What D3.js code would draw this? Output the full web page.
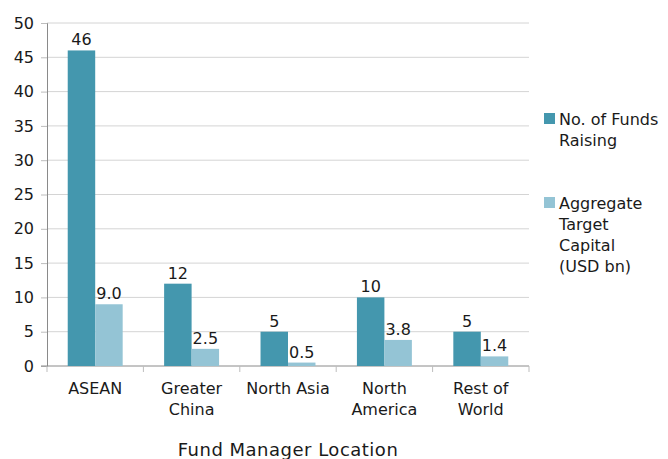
<!DOCTYPE html>
<html>
<head>
<meta charset="utf-8">
<script src="https://cdn.jsdelivr.net/npm/d3@7"></script>
<style>
  body { margin: 0; background: #fff; }
  svg text { font-family: "DejaVu Sans", sans-serif; fill: #1a1a1a; }
</style>
</head>
<body>
<div id="container"></div>
<script>
/* DATA */
const categories = [["ASEAN"], ["Greater", "China"], ["North Asia"], ["North", "America"], ["Rest of", "World"]];
const funds = [46, 12, 5, 10, 5];
const capital = [9.0, 2.5, 0.5, 3.8, 1.4];
const seriesNames = [["No. of Funds", "Raising"], ["Aggregate", "Target", "Capital", "(USD bn)"]];
const yTicks = [0, 5, 10, 15, 20, 25, 30, 35, 40, 45, 50];

const width = 668, height = 459,
  margin = { top: 23, bottom: 93, left: 47, right: 139 };
const colors = ["#4497AE", "#94C4D5"];
const fontSize = 16;

const svg = d3.select("#container").append("svg")
  .attr("width", width).attr("height", height);

const keys = categories.map((c, i) => i);

/* SCALES */
const x = d3.scaleBand()
  .domain(keys)
  .range([margin.left, width - margin.right])
  .paddingInner(0.43).paddingOuter(0.215);

const xSub = d3.scaleBand().domain([0, 1]).range([0, x.bandwidth()]);

const y = d3.scaleLinear()
  .domain([0, 50])
  .range([height - margin.bottom, margin.top]);

// gridlines
svg.append("g")
  .selectAll("line")
  .data(yTicks.slice(1))
  .join("line")
  .attr("x1", margin.left).attr("x2", width - margin.right)
  .attr("y1", d => y(d)).attr("y2", d => y(d))
  .attr("stroke", "#d4d4d4").attr("stroke-width", 1);

// y axis
const yAxis = svg.append("g")
  .attr("transform", `translate(${margin.left},0)`)
  .call(d3.axisLeft(y).tickValues(yTicks).tickSize(6).tickPadding(7));
yAxis.select(".domain").attr("stroke", "#8a8a8a");
yAxis.selectAll(".tick line").attr("stroke", "#bdbdbd");
yAxis.selectAll("text").attr("font-size", fontSize).style("fill", "#1a1a1a")
  .attr("font-family", "'DejaVu Sans', sans-serif");

// x axis
const xAxisG = svg.append("g")
  .attr("transform", `translate(0,${height - margin.bottom})`);
xAxisG.append("line")
  .attr("x1", margin.left - 6).attr("x2", width - margin.right)
  .attr("stroke", "#8a8a8a");
const tickXs = keys.map(k => x(k) - x.step() * x.paddingInner() / 2).concat([width - margin.right]);
tickXs[0] = margin.left;
xAxisG.selectAll(".xt")
  .data(tickXs)
  .join("line")
  .attr("x1", d => d).attr("x2", d => d)
  .attr("y1", 0).attr("y2", 6)
  .attr("stroke", "#bdbdbd");

// category labels
const catG = svg.append("g");
categories.forEach((lines, i) => {
  const t = catG.append("text")
    .attr("x", x(i) + x.bandwidth() / 2)
    .attr("y", height - margin.bottom + 28)
    .attr("text-anchor", "middle")
    .attr("font-size", fontSize);
  lines.forEach((ln, j) => {
    t.append("tspan").attr("x", x(i) + x.bandwidth() / 2)
      .attr("dy", j === 0 ? 0 : 21).text(ln);
  });
});

// axis title
svg.append("text")
  .attr("x", (margin.left + width - margin.right) / 2)
  .attr("y", 456)
  .attr("text-anchor", "middle")
  .attr("font-size", 18)
  .attr("letter-spacing", 0.5)
  .text("Fund Manager Location");

/* BARS */
const rows = keys.map(i => ({ i, vals: [funds[i], capital[i]] }));
const grp = svg.append("g").selectAll("g")
  .data(rows)
  .join("g")
  .attr("transform", d => `translate(${x(d.i)},0)`);

grp.selectAll("rect")
  .data(d => d.vals.map((v, s) => ({ v, s })))
  .join("rect")
  .attr("x", d => xSub(d.s))
  .attr("width", xSub.bandwidth())
  .attr("y", d => y(d.v))
  .attr("height", d => y(0) - y(d.v))
  .attr("fill", d => colors[d.s]);

grp.selectAll("text")
  .data(d => d.vals.map((v, s) => ({ v, s })))
  .join("text")
  .attr("x", d => xSub(d.s) + xSub.bandwidth() / 2)
  .attr("y", d => y(d.v) - 5)
  .attr("text-anchor", "middle")
  .attr("font-size", fontSize)
  .text(d => d.s === 0 ? d3.format("d")(d.v) : d3.format(".1f")(d.v));

/* LEGEND */
const legY = [113, 197];
seriesNames.forEach((lines, s) => {
  svg.append("rect")
    .attr("x", 544).attr("y", legY[s])
    .attr("width", 11).attr("height", 11)
    .attr("fill", colors[s]);
  const t = svg.append("text")
    .attr("x", 559).attr("y", legY[s] + 12)
    .attr("font-size", fontSize);
  lines.forEach((ln, j) => {
    t.append("tspan").attr("x", 559).attr("dy", j === 0 ? 0 : 21).text(ln);
  });
});
</script>
</body>
</html>
